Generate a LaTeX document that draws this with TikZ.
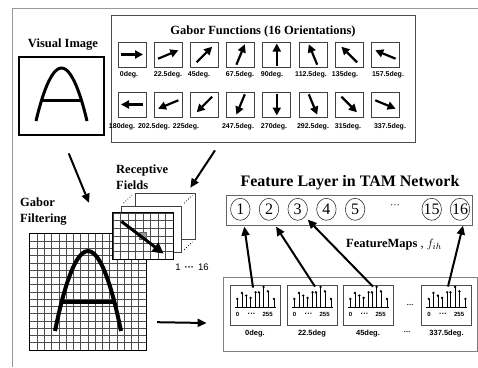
\documentclass[tikz,border=0pt]{standalone}
\usepackage{amsmath}
\usepackage{fontspec}
\setmainfont{Liberation Serif}
\setsansfont{Liberation Sans}
\usetikzlibrary{arrows.meta}
\usetikzlibrary{shapes.geometric}
\usetikzlibrary{positioning}
\usetikzlibrary{calc}

\tikzset{
  frameline/.style={draw=black!40, line width=1pt},
  ttl/.style={font=\bfseries\fontsize{12.5}{16}\selectfont, inner sep=0pt},
  degtxt/.style={font=\sffamily\bfseries\fontsize{7}{7}\selectfont, inner sep=0pt},
  tinytxt/.style={font=\sffamily\bfseries\fontsize{6}{6}\selectfont, inner sep=0pt},
  gbox/.style={draw=black!75, line width=0.8pt, minimum width=28pt, minimum height=25pt, inner sep=0pt},
  garrow/.style={line width=2.2pt, -{Triangle[length=8pt,width=8pt]}},
  bigarrow/.style={line width=2pt, -{Triangle[length=9pt,width=8pt]}},
  fcirc/.style={ellipse, draw=black!80, line width=0.6pt, minimum width=19.5pt, minimum height=22pt, inner sep=-2pt, font=\fontsize{16}{16}\selectfont},
  hbox/.style={draw=black!70, line width=0.8pt, minimum width=50pt, minimum height=40pt, inner sep=0pt},
  sheet/.style={draw=black!75, fill=white, line width=0.6pt, minimum width=60pt, minimum height=46pt, inner sep=0pt},
  gridline/.style={draw=black!70, line width=0.6pt},
}

\begin{document}
\begin{tikzpicture}[x=1pt, y=-1pt]
        \useasboundingbox (0,0) rectangle (478,367);
        \draw[frameline] (12,367) -- (12,8) -- (478,8);

        \node[ttl] (vtitle) at (63,45) {Visual Image};
        \node[draw, line width=1.6pt, minimum width=85pt, minimum height=78pt, inner sep=0pt] (vimg) at (61.5,96) {};
        \draw[line width=3pt] (36,121) parabola bend (61.5,68) (87,121);
        \draw[line width=3pt] (41.5,100) -- (81.5,100);

        \node[draw=black!70, line width=0.8pt, minimum width=304pt, minimum height=127pt, inner sep=0pt] (gfun) at (263,78.5) {};
        \node[ttl] (gtitle) at (263,31) {Gabor Functions (16 Orientations)};
        \foreach \i/\ang/\lx in {0/0/129, 1/22.5/168, 2/45/199, 3/67.5/240, 4/90/272, 5/112.5/311, 6/135/345, 7/157.5/388}{
            \node[gbox] (ga\i) at (132+36.2*\i,54.5) {};
            \draw[garrow] ([shift={(\ang+180:11pt)}]ga\i.center) -- ([shift={(\ang:11pt)}]ga\i.center);
            \node[degtxt] (gal\i) at (\lx,75) {\ang deg.};
        }
        \foreach \i/\ang/\lx in {0/180/122, 1/202.5/154, 2/225/186, 3/247.5/238, 4/270/274, 5/292.5/313, 6/315/348, 7/337.5/390}{
            \node[gbox] (gb\i) at (132+36.2*\i,104.5) {};
            \draw[garrow] ([shift={(\ang+180:11pt)}]gb\i.center) -- ([shift={(\ang:11pt)}]gb\i.center);
            \node[degtxt] (gbl\i) at (\lx,127) {\ang deg.};
        }

        \node[ttl, align=left, anchor=west] (rflabel) at (116,177) {Receptive\\Fields};
        \node[ttl, align=left, anchor=west] (gflabel) at (20,212) {Gabor\\Filtering};

        \node[minimum width=116pt, minimum height=116pt, inner sep=0pt] (grid) at (88,292) {};
        \foreach \k in {1,...,15}{
            \draw[gridline] (30+7.25*\k,234) -- ++(0,116);
            \draw[gridline] (30,234+7.25*\k) -- ++(116,0);
        }
        \draw[line width=1pt] (grid.north west) rectangle (grid.south east);
        \draw[line width=4pt] (55,331) parabola bend (88,251) (121,331);
        \draw[line width=4pt] (62,302) -- (114,302);

        \node[sheet] (rf3) at (165,216) {};
        \node[sheet] (rf2) at (151,229) {};
        \node[sheet] (rf1) at (143,236) {};
        \foreach \k in {1,...,7}
            \draw[gridline] (113+7.5*\k,213) -- ++(0,46);
        \foreach \k in {1,...,5}
            \draw[gridline] (113,213+7.667*\k) -- ++(60,0);
        \draw[line width=1pt] (rf1.north west) rectangle (rf1.south east);
        \node[draw=black!60, fill=black!40, minimum size=7pt, inner sep=0pt] (pix) at (rf1.center) {};
        \draw[line width=3pt, -{Triangle[length=11pt,width=11pt]}] ($(rf1.north west)+(8.7,8.7)$) -- ($(rf1.south east)+(-9.7,-5.7)$);
        \draw[dotted, line width=0.8pt] ($(rf2.north west)!0.2!(rf3.north west)$) -- ($(rf2.north west)!0.8!(rf3.north west)$);
        \draw[dotted, line width=0.8pt] ($(rf2.north east)!0.2!(rf3.north east)$) -- ($(rf2.north east)!0.8!(rf3.north east)$);
        \draw[dotted, line width=0.8pt] ($(rf2.south east)!0.2!(rf3.south east)$) -- ($(rf2.south east)!0.8!(rf3.south east)$);
        \node[font=\sffamily\fontsize{9.5}{10}\selectfont, inner sep=0pt] (rfnum) at ($(rf3.south)+(27,28)$) {1\hspace{4pt}\textbf{···}\hspace{4pt}16};

        \draw[bigarrow, shorten <=19pt] (vimg.south) -- ($(grid.north)+(1,-31)$);
        \draw[bigarrow] ($(gfun.south)+(-48,8)$) -- ($(rf3.north east)+(-5,-5)$);

        \node[ttl, font=\bfseries\fontsize{16}{16}\selectfont] (ftitle) at (350,183) {Feature Layer in TAM Network};
        \node[draw=black!60, line width=0.8pt, minimum width=246pt, minimum height=30pt, inner sep=0pt] (fl) at (349,210) {};
        \foreach \n in {1,...,5}
            \node[fcirc] (c\n) at (240.3+28.7*\n-28.7,209.3) {\n};
        \node[fcirc] (c15) at (431.7,209.3) {15};
        \node[fcirc] (c16) at (460,209.3) {16};
        \node[inner sep=0pt, font=\fontsize{10}{10}\selectfont] (cdots) at (395,207) {···};
        \node[anchor=west, inner sep=0pt, font=\fontsize{12.5}{14}\selectfont] (fmaps) at (346,245) {\textbf{FeatureMaps} , $f_{ih}$};

        \node[draw=black!50, line width=0.8pt, minimum width=254pt, minimum height=74pt, inner sep=0pt] (bbox) at (350,314) {};
        \foreach \i/\hx/\lab in {1/255/0deg., 2/312/22.5deg, 3/368/45deg., 4/446.5/337.5deg.}{
            \node[hbox] (h\i) at (\hx,305) {};
            \node[degtxt, font=\sffamily\bfseries\fontsize{7.5}{8}\selectfont, below=4pt of h\i] (hl\i) {\lab};
            \begin{scope}[shift={(h\i.north west)}]
                \draw[line width=0.8pt] (5,23) -- (46,23);
                \foreach \sx/\sh in {7.7/8.7, 12.3/14.7, 16.7/12, 21/9.7, 26/15.3, 29.3/15.3, 34/20.7, 38.3/16.3, 44.3/8.7}{
                    \draw[line width=0.6pt] (\sx,23) -- ++(0,-\sh);
                    \fill (\sx,23-\sh) circle (1.3pt);
                }
                \node[tinytxt] (hz\i) at (8,30) {0};
                \node[tinytxt, font=\sffamily\bfseries\fontsize{8}{8}\selectfont] (hd\i) at (22,30) {···};
                \node[tinytxt] (hm\i) at (38,30) {255};
            \end{scope}
        }
        \node[degtxt] (hdots) at (410,305) {\textellipsis};
        \node[degtxt] (hdots2) at (407,332) {\textellipsis};

        \draw[bigarrow] ($(h1.north)+(-2,3)$) -- ($(c1.south)+(4,6)$);
        \draw[bigarrow] ($(h2.north)+(3,2)$) -- ($(c2.south)+(7,6)$);
        \draw[bigarrow] ($(h3.north)+(5,2)$) -- ($(c3.south)+(10,-1)$);
        \draw[bigarrow] ($(h4.north)+(1.5,2)$) -- ($(c16.south)+(3,5)$);
        \draw[bigarrow] ($(grid.south east)+(11,-28)$) -- ($(bbox.west)+(-16,9)$);
    \end{tikzpicture}
\end{document}
